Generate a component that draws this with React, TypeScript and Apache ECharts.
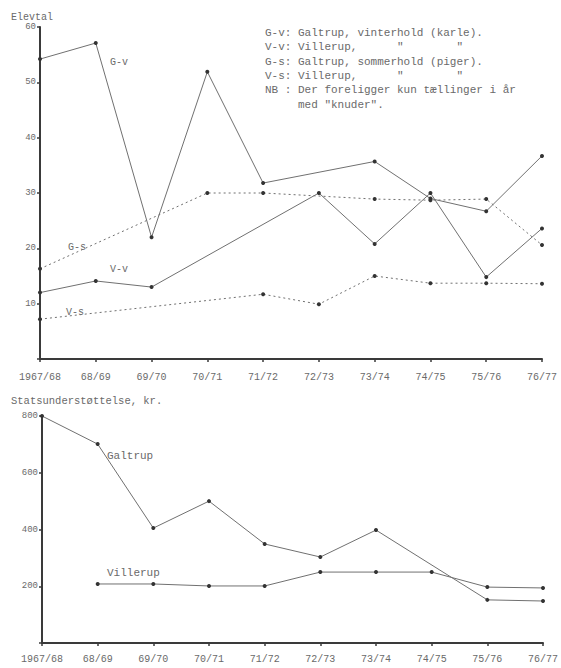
import React, { useEffect, useRef } from "react";
import * as echarts from "echarts";

const years = ["1967/68", "68/69", "69/70", "70/71", "71/72", "72/73", "73/74", "74/75", "75/76", "76/77"];

// Elevtal (number of pupils)
const galtrupVinter = [54.2, 57.1, 22.0, 51.9, 31.8, null, 35.7, 29.0, 26.7, 36.7];
const villerupVinter = [12.0, 14.1, 13.0, null, null, 30.0, 20.8, 30.0, 14.8, 23.6];
const galtrupSommer = [16.3, null, null, 30.0, 30.0, null, 28.9, 28.7, 28.9, 20.6];
const villerupSommer = [7.2, null, null, null, 11.7, 9.9, 15.0, 13.7, 13.7, 13.6];

// Statsunderstøttelse, kr.
const galtrupStotte = [800, 701, 405, 500, 349, 303, 398, null, 152, 148];
const villerupStotte = [null, 208, 208, 201, 201, 250, 250, 250, 197, 194];

const FONT = "Liberation Mono";
const TEXT = "#6a6a6a";
const AXIS = "#3a3a3a";
const LINE = "#707070";
const DOT = "#333333";

const legendLines = [
  "G-v: Galtrup, vinterhold (karle).",
  'V-v: Villerup,      "        "',
  "G-s: Galtrup, sommerhold (piger).",
  'V-s: Villerup,      "        "',
  "NB : Der foreligger kun tællinger i år",
  '     med "knuder".',
];

export default function App() {
  const ref = useRef<HTMLDivElement>(null);
  useEffect(() => {
    if (!ref.current) return;
    const chart = echarts.init(ref.current, null, { renderer: "svg" });

    const xAxisBase = (gridIndex: number, margin: number) => ({
      type: "category" as const,
      gridIndex,
      data: years,
      boundaryGap: false,
      axisLine: { lineStyle: { color: AXIS, width: 2 } },
      axisTick: { show: true, length: 3, lineStyle: { color: AXIS, width: 1.5 } },
      axisLabel: { color: TEXT, fontFamily: FONT, fontSize: 10, margin, interval: 0 },
      splitLine: { show: false },
    });

    const yAxisBase = (gridIndex: number, max: number, interval: number) => ({
      type: "value" as const,
      gridIndex,
      min: 0,
      max,
      interval,
      axisLine: { show: true, lineStyle: { color: AXIS, width: 2 } },
      axisTick: { show: true, length: 3, lineStyle: { color: AXIS, width: 1.5 } },
      axisLabel: {
        color: TEXT,
        fontFamily: FONT,
        fontSize: 9,
        margin: 4,
        formatter: (v: number) => (v === 0 ? "" : String(v)),
      },
      splitLine: { show: false },
    });

    const lineSeries = (data: (number | null)[], dotted: boolean, xi: number) => ({
      type: "line" as const,
      xAxisIndex: xi,
      yAxisIndex: xi,
      data,
      connectNulls: true,
      symbol: "circle",
      symbolSize: 4,
      showSymbol: true,
      itemStyle: { color: DOT },
      lineStyle: { color: LINE, width: 1, type: dotted ? ([2, 3] as any) : "solid" },
      silent: true,
    });

    const txt = (x: number, y: number, text: string, size = 11) => ({
      type: "text" as const,
      x,
      y,
      style: { text, fill: TEXT, font: `${size}px "${FONT}"`, textVerticalAlign: "middle" as const },
    });

    chart.setOption({
      animation: false,
      backgroundColor: "#ffffff",
      grid: [
        { left: 40, width: 502, top: 27, height: 332 },
        { left: 42, width: 507, top: 416, height: 227 },
      ],
      xAxis: [xAxisBase(0, 13), xAxisBase(1, 11)],
      yAxis: [yAxisBase(0, 60, 10), yAxisBase(1, 800, 200)],
      series: [
        lineSeries(galtrupVinter, false, 0),
        lineSeries(villerupVinter, false, 0),
        lineSeries(galtrupSommer, true, 0),
        lineSeries(villerupSommer, true, 0),
        lineSeries(galtrupStotte, false, 1),
        lineSeries(villerupStotte, false, 1),
      ],
      graphic: [
        txt(11, 17, "Elevtal", 10),
        txt(11, 401, "Statsunderstøttelse, kr.", 10.5),
        {
          type: "text",
          x: 265,
          y: 26,
          style: {
            text: legendLines.join("\n"),
            fill: TEXT,
            font: `11px "${FONT}"`,
            lineHeight: 14.3,
          },
        },
        txt(110, 62, "G-v", 10),
        txt(68, 247, "G-s", 10),
        txt(110, 269, "V-v", 10),
        txt(66, 312, "V-s", 10),
        txt(107, 456, "Galtrup", 11),
        txt(107, 573, "Villerup", 11),
      ],
    });
    return () => chart.dispose();
  }, []);
  return (
    <div
      ref={ref}
      style={{ position: "fixed", left: 0, top: 0, width: 561, height: 668, background: "#fff" }}
    />
  );
}
